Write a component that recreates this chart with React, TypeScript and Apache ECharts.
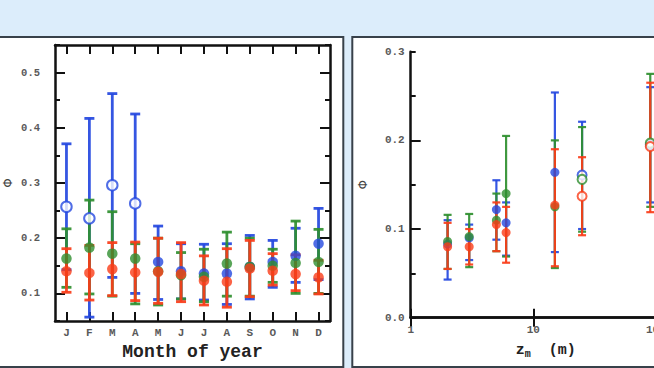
import React, { useEffect, useRef } from "react";
import * as echarts from "echarts";

// ---------- Left panel: monthly values ----------
const months = ["J", "F", "M", "A", "M", "J", "J", "A", "S", "O", "N", "D"];
const blueMonthly = [0.257, 0.236, 0.296, 0.263, 0.157, 0.14, 0.136, 0.136, 0.148, 0.157, 0.168, 0.19];
const blueMonthlyLow = [0.143, 0.057, 0.129, 0.1, 0.089, 0.09, 0.088, 0.08, 0.09, 0.111, 0.12, 0.125];
const blueMonthlyHigh = [0.371, 0.417, 0.462, 0.425, 0.222, 0.19, 0.189, 0.19, 0.205, 0.196, 0.218, 0.254];
const blueMonthlyOpen = [true, true, true, true, false, false, false, false, false, false, false, false];
const greenMonthly = [0.163, 0.183, 0.172, 0.163, 0.14, 0.133, 0.13, 0.154, 0.148, 0.15, 0.155, 0.157];
const greenMonthlyLow = [0.111, 0.099, 0.095, 0.081, 0.079, 0.09, 0.085, 0.095, 0.095, 0.12, 0.1, 0.1];
const greenMonthlyHigh = [0.217, 0.269, 0.248, 0.19, 0.2, 0.174, 0.18, 0.211, 0.2, 0.18, 0.231, 0.216];
const redMonthly = [0.14, 0.137, 0.144, 0.138, 0.139, 0.135, 0.123, 0.121, 0.145, 0.141, 0.135, 0.129];
const redMonthlyLow = [0.102, 0.088, 0.096, 0.087, 0.082, 0.085, 0.079, 0.075, 0.094, 0.115, 0.105, 0.099];
const redMonthlyHigh = [0.181, 0.187, 0.192, 0.193, 0.2, 0.192, 0.168, 0.181, 0.196, 0.172, 0.17, 0.16];

// ---------- Right panel: height profile ----------
const heights = [2, 3, 5, 6, 15, 25, 90];
const blueProfile = [0.083, 0.09, 0.122, 0.107, 0.164, 0.161, 0.195];
const blueProfileLow = [0.043, 0.065, 0.088, 0.07, 0.074, 0.1, 0.13];
const blueProfileHigh = [0.11, 0.105, 0.155, 0.13, 0.254, 0.221, 0.26];
const greenProfile = [0.086, 0.0915, 0.11, 0.14, 0.125, 0.156, 0.197];
const greenProfileLow = [0.055, 0.057, 0.075, 0.069, 0.056, 0.097, 0.125];
const greenProfileHigh = [0.116, 0.117, 0.14, 0.205, 0.2, 0.215, 0.275];
const redProfile = [0.08, 0.08, 0.105, 0.096, 0.127, 0.137, 0.193];
const redProfileLow = [0.055, 0.06, 0.075, 0.062, 0.058, 0.093, 0.119];
const redProfileHigh = [0.107, 0.1, 0.13, 0.125, 0.19, 0.181, 0.265];
const profileOpen = [false, false, false, false, false, true, true];

// ticks / labels
const leftMajorTicks = [0.1, 0.2, 0.3, 0.4, 0.5];
const rightMajorTicks = [0.1, 0.2];
const heightTickLabels = [1, 10, 100];

const BLUE = "#2448e0";
const GREEN = "#2f8f2f";
const RED = "#fa3c18";
const MONO = "Liberation Mono";

const tenthsLabel = (v: number) =>
  Math.abs(Math.round(v * 100) % 10) === 0 ? v.toFixed(1) : "";

function errorSeries(
  xAxisIndex: number,
  yAxisIndex: number,
  xs: number[],
  lo: number[],
  hi: number[],
  color: string,
  lw: number,
  cap: number
) {
  return {
    type: "custom",
    xAxisIndex,
    yAxisIndex,
    encode: { x: 0, y: [1, 2] },
    data: xs.map((x, i) => [x, lo[i], hi[i]]),
    renderItem: (_p: any, api: any) => {
      const x = api.value(0);
      const p0 = api.coord([x, api.value(1)]);
      const p1 = api.coord([x, api.value(2)]);
      const style = { stroke: color, lineWidth: lw, opacity: 0.92 };
      return {
        type: "group",
        children: [
          { type: "line", shape: { x1: p0[0], y1: p0[1], x2: p1[0], y2: p1[1] }, style },
          { type: "line", shape: { x1: p0[0] - cap, y1: p0[1], x2: p0[0] + cap, y2: p0[1] }, style },
          { type: "line", shape: { x1: p1[0] - cap, y1: p1[1], x2: p1[0] + cap, y2: p1[1] }, style },
        ],
      };
    },
    z: 2,
  };
}

function pointSeries(
  xAxisIndex: number,
  yAxisIndex: number,
  xs: number[],
  vals: number[],
  open: boolean[] | null,
  color: string,
  size: number
) {
  return {
    type: "scatter",
    xAxisIndex,
    yAxisIndex,
    symbol: "circle",
    symbolSize: size,
    data: xs.map((x, i) => ({
      value: [x, vals[i]],
      itemStyle:
        open && open[i]
          ? { color: "#ffffff", borderColor: color, borderWidth: 2 }
          : { color, borderWidth: 0 },
    })),
    z: 3,
  };
}

const axisLineStyle = { show: true, lineStyle: { color: "#111", width: 2.5 } };

function yAxisPair(gridIndex: number, position: string, min: number, max: number, majors: number[], withLabels: boolean, labelOpts: any, nameOpts: any) {
  const minor = {
    type: "value",
    gridIndex,
    position,
    min,
    max,
    interval: 0.05,
    splitLine: { show: false },
    axisLine: axisLineStyle,
    axisTick: { show: true, inside: true, length: 5, lineStyle: { color: "#111", width: 2 } },
    axisLabel: withLabels ? { show: true, formatter: tenthsLabel, ...labelOpts } : { show: false },
    ...(nameOpts || {}),
  };
  const major = {
    type: "value",
    gridIndex,
    position,
    min,
    max,
    interval: 0.05,
    splitLine: { show: false },
    axisLine: { show: false },
    axisTick: { show: true, inside: true, length: 10, customValues: majors, lineStyle: { color: "#111", width: 2 } },
    axisLabel: { show: false },
  };
  return [minor, major];
}

export default function App() {
  const ref = useRef<HTMLDivElement>(null);

  useEffect(() => {
    if (!ref.current) return;
    const chart = echarts.init(ref.current, null, { renderer: "svg" });
    const monthIdx = months.map((_, i) => i);

    const leftLabel = { color: "#5a5a5a", fontFamily: MONO, fontWeight: "bold", fontSize: 10.5, margin: 15 };
    const rightLabel = { color: "#5a5a5a", fontFamily: MONO, fontWeight: "bold", fontSize: 11, margin: 6 };

    const option: any = {
      animation: false,
      backgroundColor: "#dcedfb",
      graphic: [
        { type: "rect", z: -10, shape: { x: -10, y: 37, width: 353.3, height: 330 }, style: { fill: "#ffffff", stroke: "#38414a", lineWidth: 2 } },
        { type: "rect", z: -10, shape: { x: 352.3, y: 37, width: 340, height: 330 }, style: { fill: "#ffffff", stroke: "#38414a", lineWidth: 2 } },
      ],
      grid: [
        { left: 55, top: 45, width: 275, height: 276, outerBoundsMode: "none", containLabel: false },
        { left: 410.7, top: 51.7, width: 270.2, height: 266, outerBoundsMode: "none", containLabel: false },
      ],
      xAxis: [
        {
          type: "category",
          gridIndex: 0,
          position: "bottom",
          data: months,
          boundaryGap: true,
          axisLine: axisLineStyle,
          axisTick: { show: true, inside: true, alignWithLabel: true, interval: 0, length: 9, lineStyle: { color: "#111", width: 2 } },
          axisLabel: { interval: 0, color: "#5a5a5a", fontFamily: MONO, fontWeight: "bold", fontSize: 11, margin: 6 },
          name: "Month of year",
          nameLocation: "middle",
          nameGap: 22,
          nameTextStyle: { color: "#222", fontFamily: MONO, fontWeight: "bold", fontSize: 18 },
        },
        {
          type: "category",
          gridIndex: 0,
          position: "top",
          data: months,
          boundaryGap: true,
          axisLine: axisLineStyle,
          axisTick: { show: true, inside: true, alignWithLabel: true, interval: 0, length: 9, lineStyle: { color: "#111", width: 2 } },
          axisLabel: { show: false },
        },
        {
          type: "log",
          logBase: 10,
          gridIndex: 1,
          position: "bottom",
          min: 1,
          max: 160,
          splitLine: { show: false },
          minorTick: { show: false },
          axisLine: axisLineStyle,
          axisTick: { show: true, inside: true, length: 9, customValues: heightTickLabels, lineStyle: { color: "#111", width: 2 } },
          axisLabel: {
            color: "#5a5a5a",
            fontFamily: MONO,
            fontWeight: "bold",
            fontSize: 11,
            margin: 7,
            customValues: heightTickLabels,
            formatter: (v: number) => (heightTickLabels.some((t) => Math.abs(t - v) < 1e-6 * t) ? String(Math.round(v)) : ""),
          },
          name: "{z|z}{s|m}{p|  (m)}",
          nameLocation: "middle",
          nameGap: 24,
          nameTextStyle: {
            rich: {
              z: { color: "#222", fontFamily: MONO, fontWeight: "bold", fontSize: 15 },
              s: { color: "#222", fontFamily: MONO, fontWeight: "bold", fontSize: 10, padding: [8, 0, 0, 0] },
              p: { color: "#222", fontFamily: MONO, fontWeight: "bold", fontSize: 15 },
            },
          },
        },
        {
          type: "log",
          logBase: 10,
          gridIndex: 1,
          position: "top",
          min: 1,
          max: 160,
          splitLine: { show: false },
          minorTick: { show: false },
          axisLine: axisLineStyle,
          axisTick: { show: true, inside: true, length: 9, customValues: heightTickLabels, lineStyle: { color: "#111", width: 2 } },
          axisLabel: { show: false },
        },
      ],
      yAxis: [
        ...yAxisPair(0, "left", 0.05, 0.55, leftMajorTicks, true, leftLabel, {
          name: "Φ",
          nameLocation: "middle",
          nameGap: 41,
          nameTextStyle: { color: "#444", fontFamily: "DejaVu Sans", fontSize: 12 },
        }),
        ...yAxisPair(0, "right", 0.05, 0.55, leftMajorTicks, false, null, null),
        ...yAxisPair(1, "left", 0, 0.3, rightMajorTicks, true, rightLabel, {
          name: "Φ",
          nameLocation: "middle",
          nameGap: 42,
          nameTextStyle: { color: "#444", fontFamily: "DejaVu Sans", fontSize: 12 },
        }),
      ],
      series: [
        errorSeries(0, 0, monthIdx, blueMonthlyLow, blueMonthlyHigh, BLUE, 2.8, 5),
        errorSeries(0, 0, monthIdx, greenMonthlyLow, greenMonthlyHigh, GREEN, 2.8, 5),
        errorSeries(0, 0, monthIdx, redMonthlyLow, redMonthlyHigh, RED, 2.8, 5),
        pointSeries(0, 0, monthIdx, blueMonthly, blueMonthlyOpen, BLUE, 10.5),
        pointSeries(0, 0, monthIdx, greenMonthly, null, GREEN, 10.5),
        pointSeries(0, 0, monthIdx, redMonthly, null, RED, 10.5),
        errorSeries(2, 4, heights, blueProfileLow, blueProfileHigh, BLUE, 2.2, 4),
        errorSeries(2, 4, heights, greenProfileLow, greenProfileHigh, GREEN, 2.2, 4),
        errorSeries(2, 4, heights, redProfileLow, redProfileHigh, RED, 2.2, 4),
        pointSeries(2, 4, heights, blueProfile, profileOpen, BLUE, 9),
        pointSeries(2, 4, heights, greenProfile, profileOpen, GREEN, 9),
        pointSeries(2, 4, heights, redProfile, profileOpen, RED, 9),
      ],
    };
    chart.setOption(option);
    return () => chart.dispose();
  }, []);

  return (
    <div
      ref={ref}
      style={{ position: "fixed", left: 0, top: 0, width: 654, height: 368 }}
    />
  );
}
